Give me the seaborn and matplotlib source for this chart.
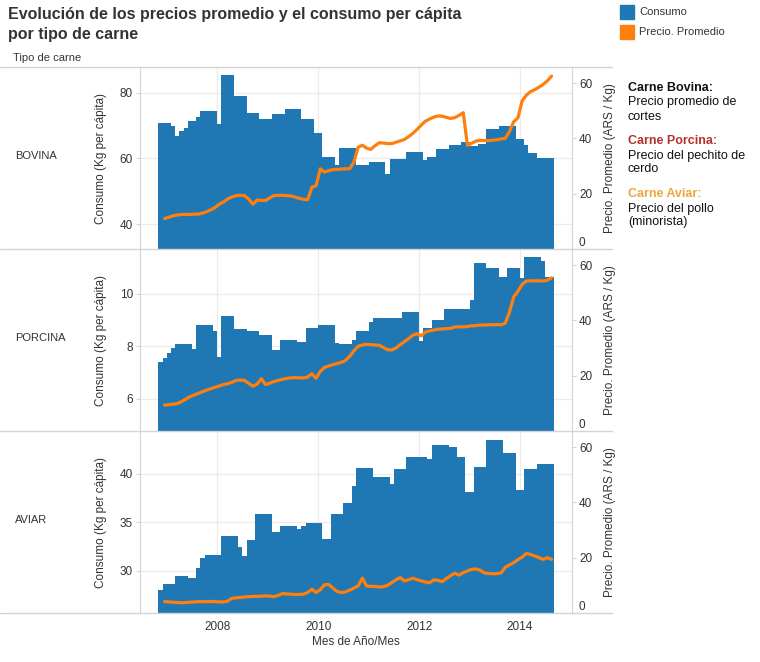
import numpy as np
import pandas as pd
import matplotlib
matplotlib.use("Agg")
import matplotlib.pyplot as plt
import seaborn as sns
from matplotlib.lines import Line2D
from matplotlib.patches import Rectangle

# ---------------- data ----------------
tipos = ["BOVINA", "PORCINA", "AVIAR"]
primer_mes = (2006, 11)   # Nov 2006, monthly series up to Aug 2014

consumo_bovina = [
    70.8, 70.8, 70.8, 69.8, 67.0, 68.5, 69.2, 71.3, 71.3, 72.8,
    74.6, 74.6, 74.6, 74.6, 70.6, 85.5, 85.5, 85.5, 79.2, 79.2,
    79.2, 74.0, 74.0, 74.0, 72.1, 72.1, 72.1, 73.6, 73.6, 73.6,
    75.0, 75.0, 75.0, 75.0, 72.1, 72.1, 72.1, 67.7, 67.7, 60.6,
    60.6, 60.6, 58.0, 63.2, 63.2, 63.2, 63.2, 58.1, 58.1, 58.1,
    58.9, 58.9, 58.9, 58.9, 55.2, 59.9, 59.9, 59.9, 59.9, 61.9,
    61.9, 61.9, 61.9, 59.6, 60.6, 60.6, 62.9, 62.9, 62.9, 64.2,
    64.2, 64.2, 65.0, 65.0, 63.7, 63.7, 64.4, 64.4, 69.0, 69.0,
    69.0, 69.8, 69.8, 69.8, 69.8, 65.8, 65.8, 64.1, 61.6, 61.6,
    60.3, 60.3, 60.3, 60.3]

consumo_porcina = [
    7.42, 7.55, 7.74, 7.93, 8.08, 8.08, 8.08, 8.08, 7.90, 8.82,
    8.82, 8.82, 8.82, 8.60, 7.60, 9.17, 9.17, 9.17, 8.66, 8.66,
    8.66, 8.57, 8.57, 8.57, 8.42, 8.42, 8.42, 7.87, 7.87, 8.25,
    8.25, 8.25, 8.25, 8.16, 8.16, 8.70, 8.70, 8.70, 8.83, 8.83,
    8.83, 8.83, 8.13, 8.10, 8.10, 8.10, 8.26, 8.58, 8.58, 8.58,
    8.92, 9.07, 9.07, 9.07, 9.10, 9.10, 9.10, 9.10, 9.30, 9.30,
    9.30, 9.30, 8.21, 8.70, 8.70, 9.00, 9.00, 9.00, 9.43, 9.43,
    9.43, 9.43, 9.43, 9.43, 9.77, 11.17, 11.17, 11.17, 11.00, 11.00,
    11.00, 10.66, 10.66, 10.98, 10.98, 10.98, 10.60, 11.40, 11.40, 11.40,
    11.40, 11.26, 10.66, 10.66]

consumo_aviar = [
    28.0, 28.7, 28.7, 28.7, 29.5, 29.5, 29.5, 29.3, 29.3, 30.3,
    31.3, 31.6, 31.6, 31.6, 31.6, 33.6, 33.6, 33.6, 33.6, 32.5,
    31.5, 33.2, 33.2, 35.9, 35.9, 35.9, 35.9, 34.0, 34.0, 34.6,
    34.6, 34.6, 34.6, 34.3, 34.6, 34.9, 34.9, 34.9, 34.9, 33.3,
    33.3, 35.9, 35.9, 35.9, 37.0, 37.0, 38.8, 40.6, 40.6, 40.6,
    40.6, 39.7, 39.7, 39.7, 39.7, 39.0, 40.5, 40.5, 40.5, 41.7,
    41.7, 41.7, 41.7, 41.7, 41.5, 43.0, 43.0, 43.0, 43.0, 42.8,
    42.8, 41.7, 41.7, 38.1, 38.1, 40.7, 40.7, 40.7, 43.5, 43.5,
    43.5, 43.5, 42.2, 42.2, 42.2, 38.3, 38.3, 40.5, 40.5, 40.5,
    41.0, 41.0, 41.0, 41.0]

# prices: Dec 2006 .. Aug 2014
precio_bovina = [
    11.0, 11.5, 12.0, 12.3, 12.5, 12.5, 12.5, 12.6, 12.6, 13.0,
    13.5, 14.2, 15.0, 16.2, 17.0, 18.1, 18.8, 19.3, 19.4, 19.3,
    18.0, 16.2, 17.7, 17.6, 17.5, 18.5, 19.3, 19.4, 19.4, 19.3,
    19.2, 18.8, 18.3, 18.0, 17.8, 22.3, 22.9, 29.0, 27.8, 28.3,
    28.7, 28.8, 28.9, 29.0, 29.0, 31.4, 36.8, 37.5, 36.5, 36.0,
    37.3, 38.4, 38.3, 38.1, 38.1, 38.6, 39.1, 39.6, 40.6, 41.8,
    43.2, 44.8, 46.2, 47.0, 47.7, 48.1, 48.0, 47.6, 47.2, 47.5,
    48.3, 49.3, 37.5, 38.2, 39.0, 39.3, 39.2, 39.2, 39.3, 39.5,
    39.8, 40.0, 42.5, 46.0, 47.4, 53.5, 55.6, 56.9, 57.6, 58.5,
    59.5, 60.8, 62.5]

precio_porcina = [
    9.4, 9.5, 9.7, 9.9, 10.6, 11.5, 12.4, 13.0, 13.6, 14.2,
    14.8, 15.3, 15.8, 16.3, 16.8, 17.1, 17.6, 18.3, 18.4, 18.3,
    17.2, 16.2, 17.0, 18.9, 16.8, 17.3, 17.9, 18.3, 18.7, 19.0,
    19.2, 19.3, 19.2, 19.2, 19.5, 20.7, 19.1, 21.5, 23.0, 23.5,
    24.0, 24.4, 24.8, 25.5, 27.0, 29.0, 30.6, 31.1, 31.3, 31.2,
    31.1, 31.0, 30.2, 29.4, 29.3, 30.0, 31.2, 32.3, 33.4, 34.6,
    35.2, 34.4, 35.8, 36.2, 36.5, 36.8, 36.9, 37.0, 37.1, 37.6,
    37.7, 37.6, 37.8, 38.0, 38.1, 38.3, 38.3, 38.4, 38.4, 38.5,
    38.4, 39.0, 43.0, 48.5, 50.5, 53.0, 54.2, 54.3, 54.3, 54.3,
    54.2, 54.5, 55.4]

precio_aviar = [
    4.1, 4.0, 3.9, 3.8, 3.7, 3.8, 3.9, 4.0, 4.1, 4.1,
    4.1, 4.2, 4.1, 4.0, 4.0, 4.3, 5.3, 5.5, 5.6, 5.8,
    5.9, 6.0, 6.0, 6.1, 6.2, 6.1, 5.9, 6.4, 7.0, 6.9,
    6.8, 6.7, 6.7, 6.8, 7.4, 8.6, 7.4, 8.4, 10.2, 10.3,
    9.0, 7.8, 7.4, 7.6, 8.3, 9.0, 9.8, 12.6, 9.8, 9.6,
    9.6, 9.4, 9.5, 10.0, 11.0, 12.0, 12.8, 11.6, 12.0, 12.6,
    12.1, 11.6, 11.2, 10.9, 12.0, 11.8, 11.3, 12.5, 13.5, 14.4,
    13.7, 14.6, 15.2, 15.8, 15.9, 15.5, 14.5, 14.3, 14.2, 14.2,
    14.5, 16.5, 17.4, 18.2, 19.3, 20.2, 21.5, 21.2, 20.6, 20.0,
    19.4, 20.0, 19.4]

consumos = [consumo_bovina, consumo_porcina, consumo_aviar]
precios = [precio_bovina, precio_porcina, precio_aviar]
ticks_izq = [[40, 60, 80], [6, 8, 10], [30, 35, 40]]
ticks_der = [0, 20, 40, 60]
anios = [2008, 2010, 2012, 2014]

# ---------------- style ----------------
BLUE = "#1f77b4"
ORANGE = "#ff7f0e"
TXT = "#333333"
GRID = "#ebebeb"
SEP = "#d4d4d4"

sns.set_style("white")
plt.rcParams["font.family"] = ["Liberation Sans", "DejaVu Sans"]

W, H = 760, 662
fig = plt.figure(figsize=(W / 100, H / 100), dpi=100)


def fx(x):
    return x / W


def fy(y):
    return 1 - y / H


start = primer_mes[0] + (primer_mes[1] - 1) / 12.0
n = len(consumo_bovina)
end = start + n / 12.0
centers = start + (np.arange(n) + 0.5) / 12.0
px = start + (np.arange(1, len(precio_bovina) + 1) + 0.5) / 12.0

ylims_izq = [(32.4, 87.9), (4.78, 11.71), (25.67, 44.43)]
ylim_der = (0, 65.8)
tops = [67, 249, 431]
PH = 182
AX_L, AX_R = 140, 572

for k, tipo in enumerate(tipos):
    top = tops[k]
    ax = fig.add_axes([fx(AX_L), fy(top + PH), (AX_R - AX_L) / W, PH / H])
    df = pd.DataFrame({"mes": centers, "consumo": consumos[k]})
    sns.histplot(data=df, x="mes", weights="consumo", bins=n,
                 binrange=(start, end),
                 element="step", fill=True, color=BLUE, alpha=1,
                 linewidth=0, ax=ax)
    ax.set_xlim(2006.47, 2015.03)
    ax.set_ylim(*ylims_izq[k])
    ax.set_yticks(ticks_izq[k])
    ax.set_xticks(anios)
    ax.set_axisbelow(True)
    ax.grid(True, color=GRID, lw=0.9)
    ax.set_xlabel("")
    ax.set_ylabel("")
    for s in ["top", "bottom", "right"]:
        ax.spines[s].set_visible(False)
    ax.spines["left"].set_color(SEP)
    ax.tick_params(axis="y", length=3, width=0.8, color=SEP, pad=2,
                   labelsize=8.5, labelcolor=TXT, left=True)
    if k == 2:
        ax.tick_params(axis="x", length=0, pad=6, labelsize=8.5, labelcolor=TXT)
    else:
        ax.tick_params(axis="x", length=0, labelbottom=False)

    ax2 = ax.twinx()
    dp = pd.DataFrame({"mes": px, "precio": precios[k]})
    sns.lineplot(data=dp, x="mes", y="precio", ax=ax2, color=ORANGE,
                 linewidth=2.3, solid_capstyle="round")
    ax2.set_ylim(*ylim_der)
    ax2.set_yticks(ticks_der)
    ax2.set_xlim(2006.47, 2015.03)
    ax2.set_ylabel("")
    ax2.set_xlabel("")
    for s in ["top", "bottom", "left"]:
        ax2.spines[s].set_visible(False)
    ax2.spines["right"].set_color(SEP)
    ax2.tick_params(axis="y", length=3, width=0.8, color=SEP, pad=2,
                    labelsize=8.5, labelcolor=TXT)
    ax2.yaxis.get_major_ticks()[0].label2.set_verticalalignment("bottom")

    cy = top + PH / 2
    fig.text(fx(101), fy(cy), "Consumo (Kg per cápita)", rotation=90,
             ha="center", va="center", fontsize=8.5, color=TXT)
    fig.text(fx(610), fy(cy), "Precio. Promedio (ARS / Kg)", rotation=90,
             ha="center", va="center", fontsize=8.5, color=TXT)
    fig.text(fx(15), fy(cy - 2), tipo, ha="left", va="center",
             fontsize=8, color=TXT)

# separators
for y in [67, 249, 431, 613]:
    fig.add_artist(Line2D([0, fx(612)], [fy(y), fy(y)], color=SEP, lw=1,
                          transform=fig.transFigure))

# titles and labels
fig.text(fx(8), fy(15), "Evolución de los precios promedio y el consumo per cápita",
         ha="left", va="center", fontsize=11.5, fontweight="bold", color=TXT)
fig.text(fx(8), fy(35), "por tipo de carne", ha="left", va="center",
         fontsize=11.5, fontweight="bold", color=TXT)
fig.text(fx(13), fy(58), "Tipo de carne", ha="left", va="center",
         fontsize=8, color=TXT)
fig.text(fx(356), fy(642), "Mes de Año/Mes", ha="center", va="center",
         fontsize=8.5, color=TXT)

# legend
fig.add_artist(Rectangle((fx(620), fy(19)), 14 / W, 14 / H, color=BLUE,
                         transform=fig.transFigure))
fig.add_artist(Rectangle((fx(620), fy(39)), 14 / W, 14 / H, color=ORANGE,
                         transform=fig.transFigure))
fig.text(fx(639), fy(12), "Consumo", ha="left", va="center", fontsize=8, color=TXT)
fig.text(fx(639), fy(32), "Precio. Promedio", ha="left", va="center",
         fontsize=8, color=TXT)

# notes
notas = [
    ("Carne Bovina:", 88, True, "#111111"),
    ("Precio promedio de", 102.5, False, "#111111"),
    ("cortes", 116.5, False, "#111111"),
    ("Carne Porcina:", 141, True, "#b3322b"),
    ("Precio del pechito de", 155.5, False, "#111111"),
    ("cerdo", 169.5, False, "#111111"),
    ("Carne Aviar:", 194, True, "#e9a93a"),
    ("Precio del pollo", 208.5, False, "#111111"),
    ("(minorista)", 222.5, False, "#111111"),
]
for t, y, b, c in notas:
    fig.text(fx(628), fy(y), t, ha="left", va="center", fontsize=9,
             fontweight="bold" if b else "normal", color=c)

fig.savefig("out.png", dpi=100)
